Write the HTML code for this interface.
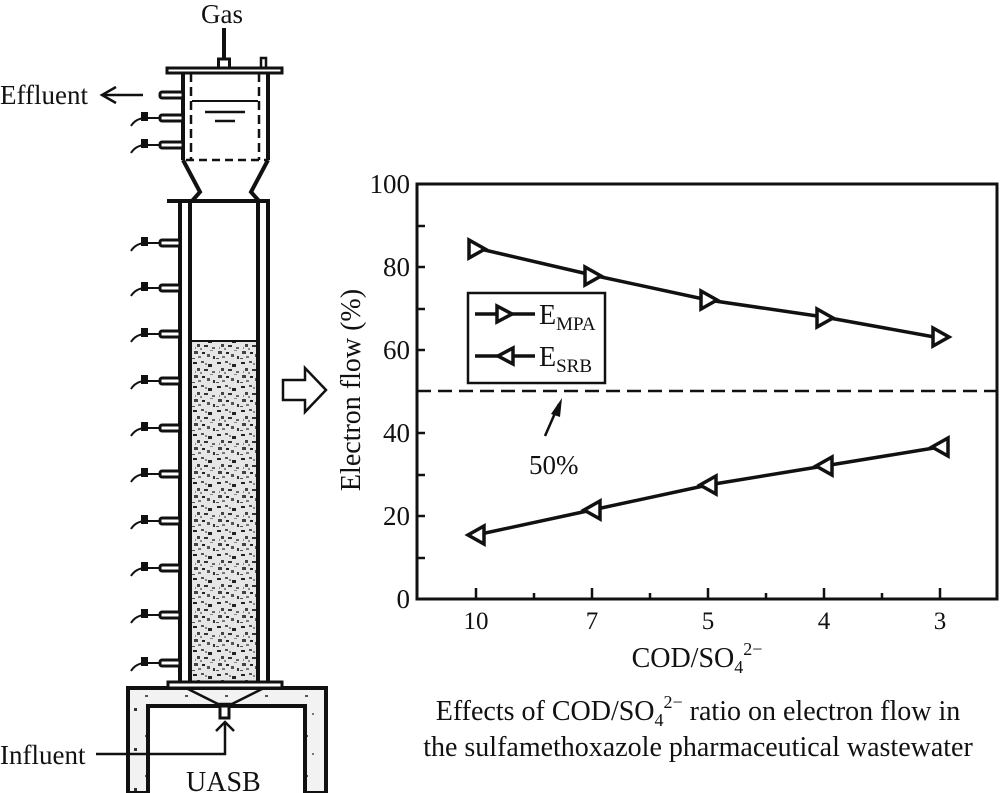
<!DOCTYPE html>
<html><head><meta charset="utf-8"><style>
html,body{margin:0;padding:0;background:#fff}
svg{display:block}
text{font-family:"Liberation Serif",serif;fill:#111}
</style></head><body>
<svg width="1000" height="793" viewBox="0 0 1000 793" xmlns="http://www.w3.org/2000/svg">
<defs>
<pattern id="sand" width="24" height="24" patternUnits="userSpaceOnUse">
<rect width="24" height="24" fill="#e6e6e6"/>
<rect x="1" y="2" width="4" height="2" fill="#222"/><rect x="9" y="1" width="3" height="2" fill="#555"/>
<rect x="16" y="4" width="4" height="3" fill="#222"/><rect x="5" y="8" width="3" height="3" fill="#444"/>
<rect x="12" y="9" width="4" height="2" fill="#333"/><rect x="20" y="11" width="3" height="2" fill="#666"/>
<rect x="2" y="15" width="4" height="3" fill="#444"/><rect x="10" y="16" width="3" height="2" fill="#222"/>
<rect x="15" y="18" width="3" height="3" fill="#555"/><rect x="6" y="20" width="3" height="2" fill="#777"/>
<rect x="21" y="20" width="2" height="3" fill="#333"/><rect x="8" y="12" width="2" height="2" fill="#888"/>
<rect x="18" y="14" width="3" height="1" fill="#888"/><rect x="3" y="11" width="1" height="2" fill="#888"/>
<rect x="13" y="3" width="2" height="2" fill="#888"/><rect x="0" y="22" width="3" height="1" fill="#555"/>
</pattern>
<pattern id="conc" width="40" height="40" patternUnits="userSpaceOnUse">
<rect width="40" height="40" fill="#f2f2f2"/>
<rect x="5" y="6" width="4" height="4" fill="#222"/><rect x="25" y="15" width="3" height="2" fill="#555"/>
<rect x="14" y="28" width="3" height="3" fill="#333"/><rect x="32" y="33" width="2" height="2" fill="#777"/>
</pattern>
</defs>
<g stroke="#111" fill="none" stroke-width="4">
<line x1="224" y1="28" x2="224" y2="60"/>
<rect x="218.5" y="59" width="11" height="9" stroke-width="3"/>
<rect x="261" y="58" width="5" height="10" stroke-width="2.5"/>
<rect x="167" y="68" width="115" height="5" stroke-width="3"/>
<line x1="183" y1="73" x2="183" y2="160"/><line x1="268" y1="73" x2="268" y2="160"/>
<line x1="191" y1="73" x2="191" y2="160" stroke-dasharray="9 5" stroke-width="2.5"/>
<line x1="259" y1="73" x2="259" y2="160" stroke-dasharray="9 5" stroke-width="2.5"/>
<line x1="186" y1="160" x2="266" y2="160" stroke-dasharray="8 5" stroke-width="2.5"/>
<line x1="192" y1="101" x2="258" y2="101" stroke-width="2"/>
<line x1="205" y1="112" x2="245" y2="112" stroke-width="2.5"/>
<line x1="215" y1="121" x2="235" y2="121" stroke-width="2.5"/>
<polyline points="183,160 200,192 192,201"/><polyline points="268,160 251,192 259,201"/>
<line x1="167" y1="201" x2="270" y2="201"/>
<line x1="180" y1="201" x2="180" y2="683"/><line x1="190" y1="201" x2="190" y2="683"/>
<line x1="258" y1="201" x2="258" y2="683"/><line x1="268" y1="201" x2="268" y2="683"/>
</g>
<rect x="192" y="341" width="64" height="340" fill="url(#sand)"/>
<line x1="192" y1="341" x2="257" y2="341" stroke="#111" stroke-width="2"/>
<g stroke="#111" stroke-width="3" fill="#fff">
<rect x="160" y="92" width="23" height="6" rx="2"/>
<rect x="160" y="115" width="23" height="6" rx="2"/>
<rect x="160" y="142" width="23" height="6" rx="2"/>
<rect x="160" y="240" width="20" height="6" rx="2"/><rect x="160" y="285" width="20" height="6" rx="2"/>
<rect x="160" y="331" width="20" height="6" rx="2"/><rect x="160" y="378" width="20" height="6" rx="2"/>
<rect x="160" y="425" width="20" height="6" rx="2"/><rect x="160" y="471" width="20" height="6" rx="2"/>
<rect x="160" y="518" width="20" height="6" rx="2"/><rect x="160" y="565" width="20" height="6" rx="2"/>
<rect x="160" y="612" width="20" height="6" rx="2"/><rect x="160" y="660" width="20" height="6" rx="2"/>
</g>
<g stroke="#111" stroke-width="2" fill="none">
<path d="M131,126 Q136,118 146,118 L160,118"/><path d="M131,153 Q136,145 146,145 L160,145"/>
<path d="M131,251 Q136,243 146,243 L160,243"/><path d="M131,296 Q136,288 146,288 L160,288"/>
<path d="M131,342 Q136,334 146,334 L160,334"/><path d="M131,389 Q136,381 146,381 L160,381"/>
<path d="M131,436 Q136,428 146,428 L160,428"/><path d="M131,482 Q136,474 146,474 L160,474"/>
<path d="M131,529 Q136,521 146,521 L160,521"/><path d="M131,576 Q136,568 146,568 L160,568"/>
<path d="M131,623 Q136,615 146,615 L160,615"/><path d="M131,671 Q136,663 146,663 L160,663"/>
</g>
<g fill="#111">
<rect x="141" y="112" width="7" height="9"/><rect x="141" y="139" width="7" height="9"/>
<rect x="141" y="237" width="7" height="9"/><rect x="141" y="282" width="7" height="9"/>
<rect x="141" y="328" width="7" height="9"/><rect x="141" y="375" width="7" height="9"/>
<rect x="141" y="422" width="7" height="9"/><rect x="141" y="468" width="7" height="9"/>
<rect x="141" y="515" width="7" height="9"/><rect x="141" y="562" width="7" height="9"/>
<rect x="141" y="609" width="7" height="9"/><rect x="141" y="657" width="7" height="9"/>
</g>
<text x="0" y="104" font-size="27">Effluent</text>
<g stroke="#111" stroke-width="2.5" fill="none"><line x1="102" y1="95" x2="143" y2="95"/><polyline points="116,87 102,95 116,103"/></g>
<path d="M128,688 H326 V793 H305 V706 H148 V793 H128 Z" fill="url(#conc)" stroke="#111" stroke-width="4"/>
<rect x="168" y="682" width="114" height="6" fill="#fff" stroke="#111" stroke-width="3"/>
<polyline points="186,688 218,704 232,704 264,688" fill="none" stroke="#111" stroke-width="2.5"/>
<rect x="220" y="706" width="9" height="12" fill="#fff" stroke="#111" stroke-width="3"/>
<g stroke="#111" stroke-width="2.5" fill="none"><polyline points="216,731 225,722 234,731"/><polyline points="225,722 225,754 96,754"/></g>
<text x="0" y="764" font-size="27">Influent</text>
<text x="186" y="791" font-size="28">UASB</text>
<text x="201" y="23" font-size="27">Gas</text>
<polygon points="283,380 305,380 305,368 326,390 305,412 305,400 283,400" fill="#fff" stroke="#111" stroke-width="2.5"/>
<rect x="417" y="184" width="580" height="415" fill="none" stroke="#111" stroke-width="3"/>
<g stroke="#111" stroke-width="2.5">
<line x1="417" y1="226" x2="425" y2="226"/><line x1="417" y1="267" x2="425" y2="267"/>
<line x1="417" y1="309" x2="425" y2="309"/><line x1="417" y1="350" x2="425" y2="350"/>
<line x1="417" y1="433" x2="425" y2="433"/><line x1="417" y1="475" x2="425" y2="475"/>
<line x1="417" y1="516" x2="425" y2="516"/><line x1="417" y1="558" x2="425" y2="558"/>
<line x1="476" y1="599" x2="476" y2="588"/><line x1="534" y1="599" x2="534" y2="593"/>
<line x1="592" y1="599" x2="592" y2="588"/><line x1="650" y1="599" x2="650" y2="593"/>
<line x1="708" y1="599" x2="708" y2="588"/><line x1="766" y1="599" x2="766" y2="593"/>
<line x1="824" y1="599" x2="824" y2="588"/><line x1="882" y1="599" x2="882" y2="593"/>
<line x1="940" y1="599" x2="940" y2="588"/>
</g>
<g font-size="27" text-anchor="end">
<text x="410" y="193">100</text><text x="410" y="276">80</text><text x="410" y="359">60</text>
<text x="410" y="442">40</text><text x="410" y="525">20</text><text x="410" y="608">0</text>
</g>
<g font-size="25" text-anchor="middle">
<text x="476" y="629">10</text><text x="592" y="629">7</text><text x="708" y="629">5</text>
<text x="824" y="629">4</text><text x="940" y="629">3</text>
</g>
<g font-size="28" text-anchor="middle">
<text x="697" y="667">COD/SO<tspan font-size="18" dy="6">4</tspan><tspan font-size="18" dy="-18">2−</tspan></text>
<text x="698" y="720">Effects of COD/SO<tspan font-size="18" dy="6">4</tspan><tspan font-size="18" dy="-18">2−</tspan><tspan dy="12"> ratio on electron flow in</tspan></text>
<text x="698" y="756">the sulfamethoxazole pharmaceutical wastewater</text>
</g>
<text transform="translate(360,390) rotate(-90)" font-size="28" text-anchor="middle">Electron flow (%)</text>
<line x1="417" y1="391" x2="997" y2="391" stroke="#111" stroke-width="2.5" stroke-dasharray="14 7"/>
<g stroke="#111" stroke-width="2.5"><line x1="545" y1="436" x2="559" y2="404"/></g>
<polygon points="562,398 551,414 560,417" fill="#111"/>
<text x="529" y="474" font-size="27">50%</text>
<g stroke="#111" stroke-width="3.5" fill="none">
<polyline points="476,248 592,275 708,300 824,317 940,338"/>
<polyline points="476,535 592,510 708,485 824,466 940,447"/>
</g>
<g stroke="#111" stroke-width="3.5" fill="#fff">
<polygon points="469,240 469,258 485,249"/><polygon points="585,267 585,285 601,276"/>
<polygon points="701,291 701,309 717,300"/><polygon points="817,309 817,327 833,318"/>
<polygon points="933,328 933,346 949,337"/>
<polygon points="484,526 484,544 468,535"/><polygon points="600,501 600,519 584,510"/>
<polygon points="716,476 716,494 700,485"/><polygon points="832,457 832,475 816,466"/>
<polygon points="948,438 948,456 932,447"/>
</g>
<rect x="468" y="293" width="137" height="90" fill="#fff" stroke="#111" stroke-width="2.5"/>
<g stroke="#111" stroke-width="3.5" fill="#fff">
<line x1="475" y1="314" x2="535" y2="314"/><polygon points="497,306 497,322 512,314"/>
<line x1="475" y1="356" x2="535" y2="356"/><polygon points="513,348 513,364 498,356"/>
</g>
<text x="539" y="324" font-size="28">E<tspan font-size="19" dy="6">MPA</tspan></text>
<text x="539" y="366" font-size="28">E<tspan font-size="19" dy="6">SRB</tspan></text>
</svg>
</body></html>
